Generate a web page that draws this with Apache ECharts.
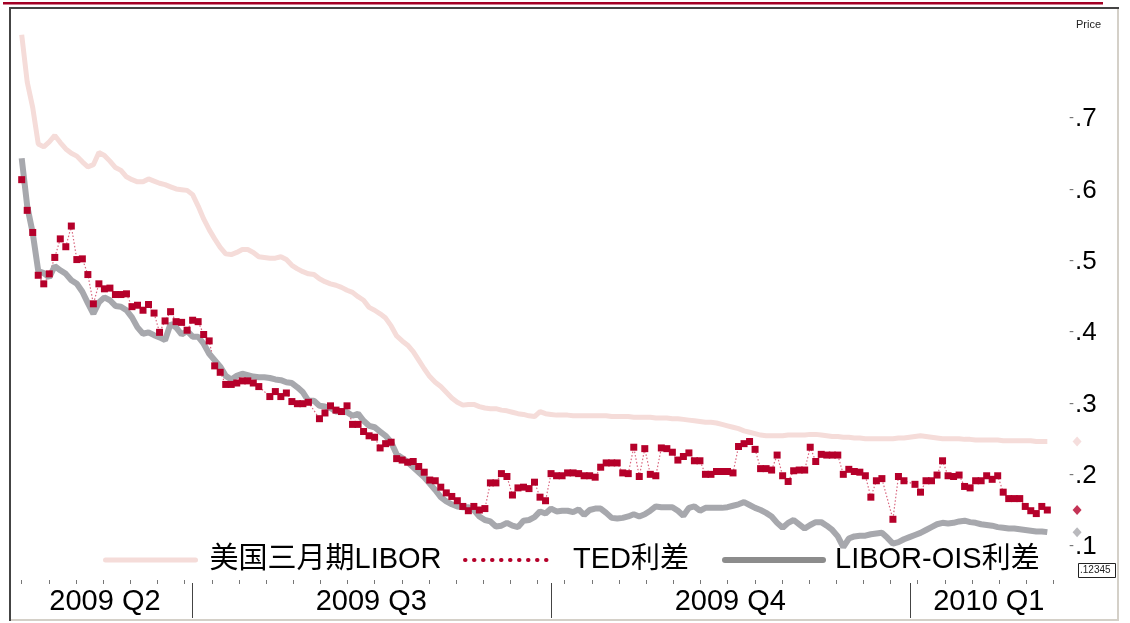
<!DOCTYPE html>
<html>
<head>
<meta charset="utf-8">
<script src="https://cdn.jsdelivr.net/npm/echarts@6/dist/echarts.min.js"></script>
<style>
    html, body {margin: 0; padding: 0; background: #fff;}
    #chart {width: 1130px; height: 623px;}
</style>
</head>
<body>
<div id="chart"></div>
<script>
// 美国三月期LIBOR, one value per trading day (May 2009 - Feb 2010)
var libor = [
    0.818, 0.752, 0.716, 0.665, 0.661, 0.668, 0.677, 0.667, 0.658, 0.652,
    0.648, 0.640, 0.633, 0.636, 0.653, 0.649, 0.641, 0.632, 0.628, 0.619,
    0.615, 0.612, 0.612, 0.616, 0.613, 0.610, 0.608, 0.605, 0.602, 0.601,
    0.600, 0.594, 0.578, 0.560, 0.545, 0.532, 0.520, 0.511, 0.510, 0.513,
    0.517, 0.517, 0.513, 0.507, 0.506, 0.505, 0.505, 0.507, 0.503, 0.495,
    0.490, 0.486, 0.483, 0.482, 0.476, 0.472, 0.469, 0.467, 0.464, 0.460,
    0.457, 0.451, 0.446, 0.436, 0.432, 0.427, 0.421, 0.410, 0.396, 0.389,
    0.383, 0.374, 0.362, 0.350, 0.339, 0.331, 0.325, 0.317, 0.309, 0.303,
    0.299, 0.300, 0.300, 0.297, 0.295, 0.294, 0.294, 0.292, 0.291, 0.289,
    0.287, 0.286, 0.284, 0.283, 0.290, 0.287, 0.286, 0.285, 0.285, 0.285,
    0.284, 0.284, 0.284, 0.284, 0.284, 0.284, 0.284, 0.283, 0.283, 0.283,
    0.283, 0.282, 0.282, 0.282, 0.282, 0.281, 0.281, 0.281, 0.280, 0.280,
    0.279, 0.278, 0.277, 0.276, 0.275, 0.275, 0.274, 0.272, 0.270, 0.268,
    0.266, 0.263, 0.261, 0.259, 0.257, 0.256, 0.256, 0.256, 0.256, 0.257,
    0.257, 0.257, 0.257, 0.258, 0.258, 0.257, 0.256, 0.255, 0.255, 0.254,
    0.254, 0.253, 0.253, 0.252, 0.252, 0.252, 0.252, 0.252, 0.252, 0.253,
    0.253, 0.254, 0.255, 0.256, 0.255, 0.254, 0.253, 0.252, 0.252, 0.252,
    0.252, 0.251, 0.251, 0.250, 0.250, 0.250, 0.250, 0.250, 0.249, 0.249,
    0.249, 0.249, 0.249, 0.249, 0.248, 0.248, 0.248
];

// TED利差 (null = no quote that day)
var ted = [
    0.615, 0.572, 0.541, 0.481, 0.469, 0.483, 0.506, 0.532, 0.521, 0.550,
    0.503, 0.504, 0.482, 0.441, 0.469, 0.462, 0.463, 0.454, 0.454, 0.455,
    0.437, 0.439, 0.432, 0.440, 0.428, 0.401, 0.417, 0.430, 0.416, 0.415,
    0.404, 0.418, 0.416, 0.398, 0.389, 0.354, 0.345, 0.328, 0.328, 0.330,
    0.333, 0.333, 0.330, 0.325, null, 0.311, 0.318, 0.311, 0.316, 0.304,
    0.301, 0.301, 0.303, null, 0.280, 0.288, 0.298, 0.292, 0.290, 0.298,
    0.272, 0.272, 0.262, 0.256, 0.254, 0.239, 0.245, 0.247, 0.224, 0.222,
    0.219, 0.220, 0.213, 0.205, 0.194, 0.193, 0.184, 0.176, 0.171, 0.165,
    0.157, 0.151, 0.157, 0.152, 0.154, 0.190, 0.190, 0.203, 0.199, 0.173,
    0.183, 0.184, 0.182, 0.191, 0.170, 0.165, 0.203, 0.200, 0.200, 0.204,
    0.204, 0.203, 0.200, 0.200, 0.198, 0.212, 0.218, 0.218, 0.218, 0.204,
    0.203, 0.240, 0.199, 0.238, 0.202, 0.200, 0.239, 0.238, 0.233, 0.222,
    0.227, 0.232, 0.221, 0.221, 0.202, 0.202, 0.206, 0.206, 0.206, 0.204,
    0.241, 0.245, 0.248, 0.237, 0.210, 0.210, 0.208, 0.229, 0.200, 0.192,
    0.207, 0.208, 0.208, 0.240, 0.220, 0.230, 0.229, 0.229, 0.229, 0.202,
    0.209, 0.206, 0.205, 0.200, 0.170, 0.193, 0.196, null, 0.139, 0.199,
    0.193, null, 0.188, 0.177, 0.193, 0.193, 0.201, 0.221, 0.200, 0.199,
    0.201, 0.185, 0.183, 0.193, 0.193, 0.200, 0.195, 0.200, 0.177, 0.168,
    0.168, 0.168, 0.157, 0.151, 0.147, 0.157, 0.152
];

// LIBOR-OIS利差
var oisSpread = [
    0.645, 0.578, 0.540, 0.487, 0.484, 0.478, 0.494, 0.488, 0.483, 0.474,
    0.469, 0.458, 0.442, 0.427, 0.443, 0.450, 0.446, 0.438, 0.437, 0.432,
    0.422, 0.408, 0.399, 0.401, 0.397, 0.394, 0.390, 0.413, 0.408, 0.398,
    0.403, 0.395, 0.395, 0.385, 0.371, 0.362, 0.353, 0.340, 0.335, 0.340,
    0.343, 0.341, 0.339, 0.338, 0.338, 0.337, 0.335, 0.334, 0.331, 0.330,
    0.324, 0.317, 0.305, 0.305, 0.298, 0.297, 0.295, 0.290, 0.290, 0.289,
    0.284, 0.287, 0.277, 0.270, 0.268, 0.262, 0.256, 0.247, 0.230, 0.225,
    0.219, 0.212, 0.205, 0.198, 0.189, 0.180, 0.170, 0.164, 0.160, 0.157,
    0.156, 0.156, 0.152, 0.143, 0.138, 0.136, 0.129, 0.130, 0.134, 0.130,
    0.128, 0.137, 0.138, 0.142, 0.150, 0.147, 0.154, 0.150, 0.151, 0.151,
    0.149, 0.153, 0.145, 0.152, 0.154, 0.154, 0.148, 0.141, 0.140, 0.141,
    0.143, 0.146, 0.143, 0.146, 0.151, 0.157, 0.156, 0.156, 0.156, 0.151,
    0.144, 0.155, 0.157, 0.151, 0.155, 0.155, 0.155, 0.155, 0.156, 0.158,
    0.160, 0.163, 0.159, 0.155, 0.152, 0.148, 0.143, 0.134, 0.127, 0.134,
    0.138, 0.132, 0.126, 0.131, 0.135, 0.135, 0.130, 0.124, 0.115, 0.100,
    0.112, 0.115, 0.116, 0.116, 0.118, 0.119, 0.120, 0.113, 0.105, 0.107,
    0.111, 0.114, 0.117, 0.120, 0.124, 0.128, 0.132, 0.134, 0.133, 0.134,
    0.136, 0.137, 0.135, 0.134, 0.132, 0.131, 0.130, 0.128, 0.127, 0.126,
    0.126, 0.125, 0.124, 0.123, 0.122, 0.122, 0.121
];

var seriesNames = ['美国三月期LIBOR', 'TED利差', 'LIBOR-OIS利差'];
var quarterLabels = ['2009 Q2', '2009 Q3', '2009 Q4', '2010 Q1'];
var yTickValues = [0.1, 0.2, 0.3, 0.4, 0.5, 0.6, 0.7];

// axis placement, in trading-day index units
var quarterCenters = [15.1, 63.4, 128.5, 175.4];
var quarterBreaks = [30.88, 96.0, 161.1];
var tagX = 191.4;
var weekTicks = [];
for (var k = 0; k <= 38; k++) {
    weekTicks.push(k * 4.924);
}

var FONT = "'Liberation Sans', Arial, 'Noto Sans CJK SC', sans-serif";
var PINK = '#f5dcd9';
var RED = '#b5002a';
var GRAY = '#a7a8ad';

function toPairs(arr) {
    return arr.map(function (v, i) { return [i, v]; });
}

function lastOf(arr) {
    return arr[arr.length - 1];
}

function legendFor(name, left, iconWidth, gap, lineStyle) {
    return {
        data: [{name: name, lineStyle: lineStyle}],
        left: left,
        top: 545,
        padding: 0,
        itemWidth: iconWidth,
        itemHeight: 14,
        selectedMode: false,
        itemStyle: {opacity: 0},
        textStyle: {
            fontSize: 29,
            color: '#000',
            fontFamily: FONT,
            lineHeight: 30,
            padding: [0, 0, 0, gap]
        }
    };
}

var chartDom = document.getElementById('chart');
var myChart = echarts.init(chartDom);
var option;

option = {
    animation: false,
    backgroundColor: '#fff',
    grid: {left: 11, right: 70, top: 10, bottom: 43},
    legend: [
        legendFor(seriesNames[0], 103, 90, 9, {color: PINK, width: 5, cap: 'round'}),
        legendFor(seriesNames[1], 463, 86, 17, {color: RED, width: 4, type: [0.5, 8.5], cap: 'round'}),
        legendFor(seriesNames[2], 722, 98, 7, {color: '#8c8c8c', width: 6, cap: 'round'})
    ],
    xAxis: [
        {
            type: 'value',
            min: -1.94,
            max: 188.3,
            position: 'bottom',
            axisLine: {show: false},
            splitLine: {show: false},
            axisTick: {
                show: true,
                customValues: weekTicks,
                length: 4,
                lineStyle: {color: '#777', width: 1}
            },
            axisLabel: {
                customValues: quarterCenters,
                margin: 7,
                fontSize: 29,
                color: '#000',
                fontFamily: FONT,
                formatter: function (v) {
                    var idx = quarterCenters.indexOf(v);
                    return idx >= 0 ? quarterLabels[idx] : '';
                }
            }
        },
        {
            type: 'value',
            min: -1.94,
            max: 188.3,
            position: 'bottom',
            offset: 3,
            axisLine: {show: false},
            splitLine: {show: false},
            axisLabel: {show: false},
            axisTick: {
                show: true,
                customValues: quarterBreaks,
                length: 35,
                lineStyle: {color: '#444', width: 1}
            }
        }
    ],
    yAxis: {
        type: 'value',
        position: 'right',
        min: 0.0539,
        max: 0.8528,
        axisLine: {show: false},
        splitLine: {show: false},
        axisTick: {show: false},
        axisLabel: {
            customValues: yTickValues,
            margin: 9,
            color: '#000',
            fontFamily: FONT,
            formatter: function (v) {
                return '{t|-}{v|.' + Math.round(v * 10) + '}';
            },
            rich: {
                t: {fontSize: 15, color: '#777', fontFamily: FONT, padding: [0, 1, 2, 0]},
                v: {fontSize: 26, color: '#000', fontFamily: FONT}
            }
        }
    },
    graphic: [
        {type: 'rect', shape: {x: 3, y: 2, width: 1100, height: 2.5}, style: {fill: '#a30025'}},
        {type: 'rect', shape: {x: 9, y: 7, width: 1110, height: 2}, style: {fill: '#444'}},
        {type: 'rect', shape: {x: 9, y: 7, width: 2, height: 614}, style: {fill: '#444'}},
        {type: 'rect', shape: {x: 1117, y: 9, width: 2, height: 612}, style: {fill: '#d4d0c8'}},
        {type: 'rect', shape: {x: 11, y: 619, width: 1108, height: 2}, style: {fill: '#d4d0c8'}},
        {type: 'text', left: 1076, top: 19, style: {text: 'Price', fontSize: 11, fontFamily: FONT, fill: '#222'}},
        {type: 'rect', shape: {x: 1078.5, y: 563.5, width: 37, height: 14},
            style: {fill: '#fff', stroke: '#222', lineWidth: 1}},
        {type: 'text', left: 1080, top: 565, style: {text: '.12345', fontSize: 10, fontFamily: FONT, fill: '#222'}}
    ],
    series: [
        {
            name: seriesNames[0],
            type: 'line',
            data: toPairs(libor),
            symbol: 'none',
            lineStyle: {color: PINK, width: 5},
            itemStyle: {color: PINK}
        },
        {
            name: seriesNames[1],
            type: 'line',
            data: toPairs(ted),
            connectNulls: true,
            symbol: 'rect',
            symbolSize: 7,
            showAllSymbol: true,
            lineStyle: {color: '#d9667f', width: 1.2, type: [1.5, 2]},
            itemStyle: {color: RED}
        },
        {
            name: seriesNames[2],
            type: 'line',
            data: toPairs(oisSpread),
            symbol: 'none',
            lineStyle: {color: GRAY, width: 6},
            itemStyle: {color: GRAY}
        },
        {
            // last-value tags beside the right axis
            type: 'scatter',
            clip: false,
            symbol: 'diamond',
            symbolSize: [9, 10],
            silent: true,
            data: [
                {value: [tagX, lastOf(libor)], itemStyle: {color: '#f3d6d4'}},
                {value: [tagX, lastOf(ted)], itemStyle: {color: RED}},
                {value: [tagX, lastOf(oisSpread)], itemStyle: {color: GRAY}}
            ]
        }
    ]
};

option && myChart.setOption(option);
</script>
</body>
</html>
